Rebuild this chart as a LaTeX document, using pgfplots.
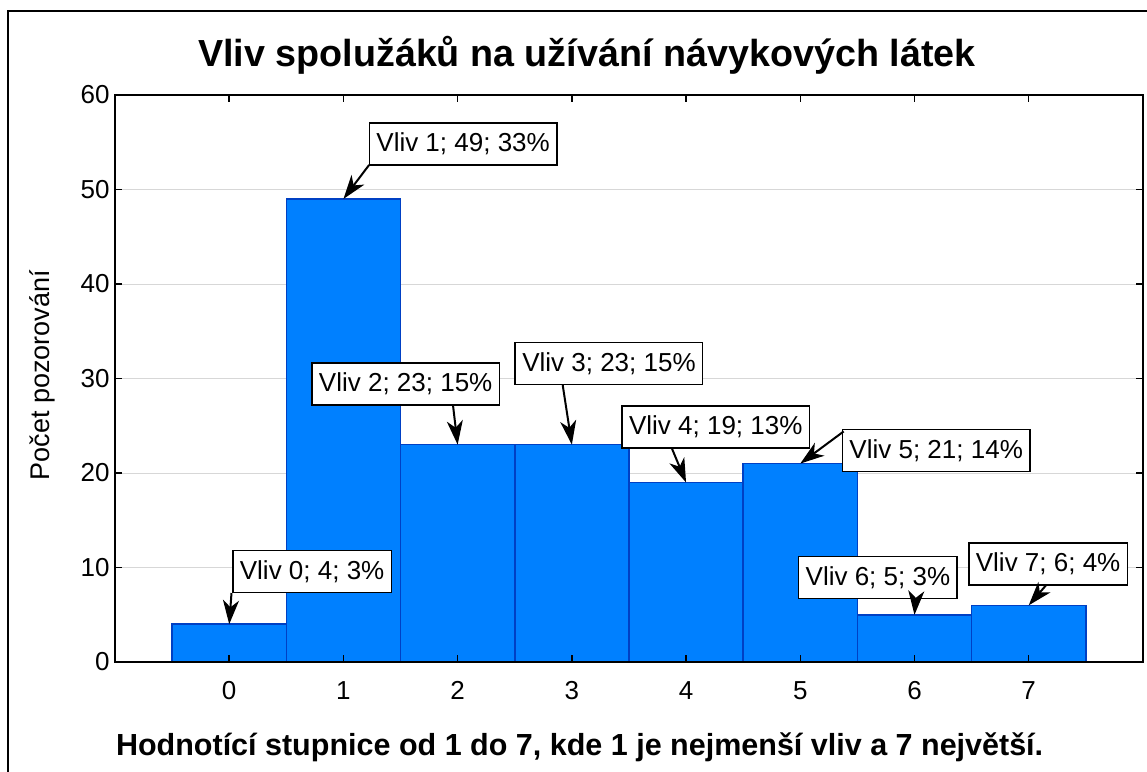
\documentclass[border=0pt]{standalone}
\usepackage{fontspec}
\setmainfont{Liberation Sans}
\usepackage{pgfplots}
\pgfplotsset{compat=1.18}
\usetikzlibrary{arrows.meta}
\definecolor{barblue}{RGB}{0,128,255}
\definecolor{baredge}{RGB}{0,64,196}
\definecolor{gridgray}{RGB}{215,215,215}
\tikzset{
  ann/.style={draw=black, fill=white, line width=1.6pt, font=\fontsize{26}{31}\selectfont, minimum height=42pt, inner xsep=7pt, anchor=center},
  arr/.style={-{Stealth[length=24pt,width=16pt,inset=7pt]}, line width=2pt},
}
\begin{document}
\begin{tikzpicture}
\useasboundingbox (0pt,0pt) rectangle (1147pt,-771pt);
\draw[line width=2pt] (8pt,-775pt) -- (8pt,-11pt) -- (1150pt,-11pt);
\begin{axis}[
  axis on top,
  at={(115pt,-662pt)}, anchor=south west,
  scale only axis, width=1028pt, height=567pt,
  xmin=-1, xmax=8, ymin=0, ymax=60,
  xtick={0,...,7}, ytick={0,10,...,60},
  tick align=inside, major tick length=7pt,
  tick style={black, line width=1.5pt},
  axis line style={line width=2pt},
  ticklabel style={font=\fontsize{26}{30}\selectfont},
  /pgf/number format/assume math mode=true,
  xticklabel style={yshift=-16pt},
  yticklabel style={xshift=-2pt},
  title={Vliv spolužáků na užívání návykových látek},
  title style={font=\fontsize{37.7}{44}\selectfont\bfseries, at={(axis description cs:0.459,1.060)}, anchor=center},
  xlabel={Hodnotící stupnice od 1 do 7, kde 1 je nejmenší vliv a 7 největší.},
  xlabel style={font=\fontsize{30.5}{36}\selectfont\bfseries, at={(axis description cs:0.452,-0.150)}, anchor=center},
  ylabel={Počet pozorování},
  ylabel style={font=\fontsize{27}{32}\selectfont, at={(axis description cs:-0.071,0.506)}, anchor=center, rotate=0},
]
\pgfplotsinvokeforeach{10,20,30,40,50}{\draw[gridgray, line width=1pt] (axis cs:-1,#1) -- (axis cs:8,#1);}
\addplot[ybar, bar width=1, bar shift=0, fill=barblue, draw=baredge, line width=1.5pt]
  coordinates {(0,4) (1,49) (2,23) (3,23) (4,19) (5,21) (6,5) (7,6)};
\node[ann] at (axis cs:0.726,9.57) {Vliv 0; 4; 3\%};
\draw[arr] (axis cs:0.02,7.3) -- (axis cs:0,4);
\node[ann] at (axis cs:2.048,54.8) {Vliv 1; 49; 33\%};
\draw[arr] (axis cs:1.225,52.6) -- (axis cs:1,49);
\node[ann] at (axis cs:1.545,29.4) {Vliv 2; 23; 15\%};
\draw[arr] (axis cs:1.96,27.1) -- (axis cs:2,23);
\node[ann] at (axis cs:3.325,31.6) {Vliv 3; 23; 15\%};
\draw[arr] (axis cs:2.92,29.3) -- (axis cs:3,23);
\node[ann] at (axis cs:4.26,24.9) {Vliv 4; 19; 13\%};
\draw[arr] (axis cs:3.876,22.6) -- (axis cs:4,19);
\node[ann] at (axis cs:6.19,22.4) {Vliv 5; 21; 14\%};
\draw[arr] (axis cs:5.38,24.4) -- (axis cs:5,21);
\node[ann] at (axis cs:5.68,8.95) {Vliv 6; 5; 3\%};
\draw[arr] (axis cs:6.01,6.6) -- (axis cs:6,5);
\node[ann] at (axis cs:7.17,10.4) {Vliv 7; 6; 4\%};
\draw[arr] (axis cs:7.15,8.1) -- (axis cs:7,6);
\end{axis}
\end{tikzpicture}
\end{document}
